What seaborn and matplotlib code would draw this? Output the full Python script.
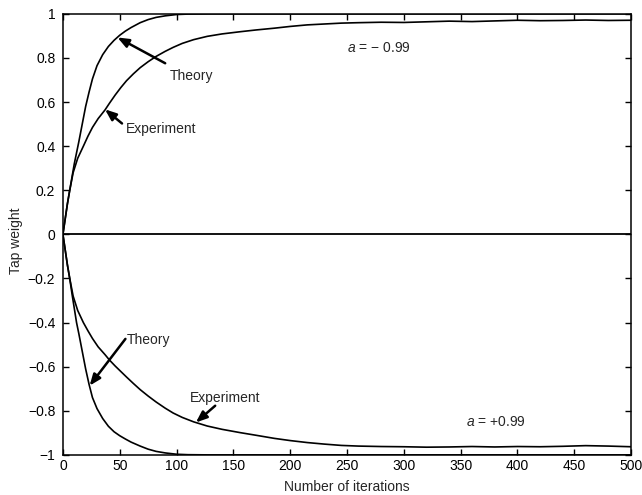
import matplotlib
matplotlib.use("Agg")
import matplotlib.pyplot as plt
import seaborn as sns
import pandas as pd

sns.set_theme(style="ticks")
plt.rcParams["font.family"] = ["Liberation Sans", "DejaVu Sans"]
plt.rcParams["mathtext.fontset"] = "custom"
plt.rcParams["mathtext.it"] = "Liberation Sans:italic"
plt.rcParams["mathtext.rm"] = "Liberation Sans"

# Iteration index at which each curve is sampled
iters_theory = [0, 2, 4, 6, 8, 10, 12, 14, 17, 20, 23, 26, 30, 35, 40, 45, 50, 55,
                60, 68, 75, 82, 90, 100, 110, 130, 500]
iters_exp = [0, 2, 4, 6, 9, 13, 18, 22, 26, 31, 37, 41, 46, 51, 56, 62, 68, 75, 82,
             90, 97, 105, 115, 127, 140, 156, 170, 186, 200, 215, 230, 245, 260,
             280, 300, 320, 340, 360, 380, 400, 420, 440, 460, 480, 500]

# a = -0.99 : tap weight rises towards +1
theory_neg = [0.0, 0.07, 0.14, 0.2, 0.26, 0.32, 0.37, 0.42, 0.5, 0.58, 0.645, 0.705,
              0.765, 0.815, 0.852, 0.88, 0.903, 0.922, 0.938, 0.96, 0.974, 0.984,
              0.991, 0.997, 0.999, 1.0, 1.0]
exp_neg = [0.0, 0.07, 0.14, 0.2, 0.28, 0.345, 0.4, 0.445, 0.485, 0.525, 0.564, 0.595,
           0.632, 0.666, 0.697, 0.728, 0.756, 0.783, 0.807, 0.83, 0.848, 0.866, 0.883,
           0.898, 0.909, 0.919, 0.927, 0.935, 0.943, 0.95, 0.954, 0.958, 0.96, 0.962,
           0.961, 0.964, 0.967, 0.965, 0.968, 0.971, 0.969, 0.97, 0.972, 0.97, 0.971]

# a = +0.99 : tap weight falls towards -1
theory_pos = [0.0, -0.07, -0.14, -0.2, -0.27, -0.335, -0.4, -0.45, -0.53, -0.61,
              -0.68, -0.74, -0.79, -0.835, -0.87, -0.895, -0.913, -0.928, -0.942,
              -0.96, -0.974, -0.984, -0.991, -0.997, -0.999, -1.0, -1.0]
exp_pos = [0.0, -0.07, -0.14, -0.2, -0.28, -0.345, -0.4, -0.437, -0.472, -0.51,
           -0.545, -0.57, -0.597, -0.622, -0.647, -0.676, -0.704, -0.733, -0.76,
           -0.788, -0.81, -0.83, -0.85, -0.869, -0.884, -0.899, -0.911, -0.925,
           -0.935, -0.944, -0.951, -0.957, -0.96, -0.962, -0.963, -0.965, -0.964,
           -0.962, -0.964, -0.962, -0.963, -0.961, -0.958, -0.96, -0.963]

x_ticks = [0, 50, 100, 150, 200, 250, 300, 350, 400, 450, 500]
y_ticks = [-1, -0.8, -0.6, -0.4, -0.2, 0, 0.2, 0.4, 0.6, 0.8, 1]
y_tick_labels = ["\u22121", "\u22120.8", "\u22120.6", "\u22120.4", "\u22120.2", "0",
                 "0.2", "0.4", "0.6", "0.8", "1"]

df_theory = pd.DataFrame({"n": iters_theory + iters_theory,
                          "w": theory_neg + theory_pos,
                          "curve": ["theory_neg"] * len(iters_theory) + ["theory_pos"] * len(iters_theory)})
df_exp = pd.DataFrame({"n": iters_exp + iters_exp,
                       "w": exp_neg + exp_pos,
                       "curve": ["exp_neg"] * len(iters_exp) + ["exp_pos"] * len(iters_exp)})

fig = plt.figure(figsize=(6.42, 4.95), dpi=100)
ax = fig.add_axes([0.098, 0.081, 0.885, 0.891])

sns.lineplot(data=df_theory, x="n", y="w", units="curve", estimator=None,
             color="black", lw=1.2, ax=ax)
sns.lineplot(data=df_exp, x="n", y="w", units="curve", estimator=None,
             color="black", lw=1.2, ax=ax)
ax.axhline(0, color="black", lw=1.3)

ax.set_xlim(0, 500)
ax.set_ylim(-1, 1)
ax.set_xticks(x_ticks)
ax.set_xticklabels([str(t) for t in x_ticks])
ax.set_yticks(y_ticks)
ax.set_yticklabels(y_tick_labels)
ax.tick_params(direction="in", length=4, width=1, labelsize=10, colors="black",
               top=True, right=True, pad=3)
ax.tick_params(axis="y", pad=5.5)
for s in ax.spines.values():
    s.set_color("black")
    s.set_linewidth(1.1)

ax.set_xlabel("Number of iterations", fontsize=10, labelpad=5)
ax.set_ylabel("Tap weight", fontsize=10)
ax.yaxis.set_label_coords(-0.071, 0.485)

arrow = dict(arrowstyle="-|>,head_length=0.55,head_width=0.22", color="black", lw=1.8,
             shrinkA=0, shrinkB=0)
# arrows pointing at the curves
ax.annotate("", xy=(48, 0.893), xytext=(90, 0.776), arrowprops=arrow)
ax.annotate("", xy=(37, 0.567), xytext=(52, 0.503), arrowprops=arrow)
ax.annotate("", xy=(23.5, -0.686), xytext=(55, -0.474), arrowprops=arrow)
ax.annotate("", xy=(117, -0.853), xytext=(134, -0.777), arrowprops=arrow)

ax.text(94, 0.72, "Theory", fontsize=10, ha="left", va="center")
ax.text(55.5, 0.48, "Experiment", fontsize=10, ha="left", va="center")
ax.text(56, -0.48, "Theory", fontsize=10, ha="left", va="center")
ax.text(112, -0.74, "Experiment", fontsize=10, ha="left", va="center")

ax.text(250, 0.845, "$a$ = \u2212 0.99", fontsize=10, ha="left", va="center")
ax.text(355, -0.85, "$a$ = +0.99", fontsize=10, ha="left", va="center")

fig.savefig("out.png", dpi=100)
